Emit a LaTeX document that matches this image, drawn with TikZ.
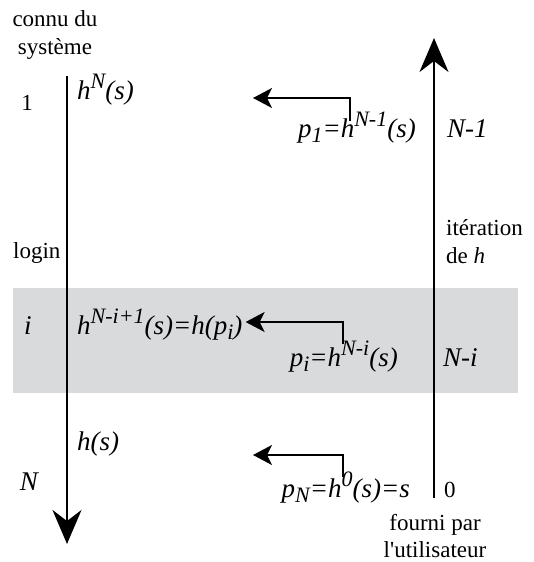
\documentclass[tikz,border=0pt]{standalone}
\usepackage{fontspec}
\setmainfont{Liberation Serif}[Ligatures=TeXOff]
\usetikzlibrary{arrows.meta}
\definecolor{bandgray}{RGB}{217,218,220}
\newcommand\supr[1]{\raisebox{0.38em}{\fontsize{22}{22}\selectfont #1}}
\newcommand\subr[1]{\raisebox{-0.22em}{\fontsize{22}{22}\selectfont #1}}
\begin{document}
\begin{tikzpicture}[x=1pt,y=-1pt,
  rt/.style={font=\fontsize{23}{27}\selectfont, inner sep=0pt},
  mt/.style={font=\fontsize{27}{29}\selectfont\itshape, inner sep=0pt},
  bigarrow/.style={line width=1.8pt, -{Stealth[length=34pt,width=29pt,inset=11pt]}},
  smallarrow/.style={line width=1.8pt, -{Stealth[length=19pt,width=20pt,inset=5pt]}}]
\useasboundingbox (0,0) rectangle (534,562);
\fill[bandgray] (13,288) rectangle (518,393);
% vertical axes
\coordinate (ltop) at (67,76);
\coordinate (lbot) at (67,544);
\coordinate (rbot) at (434,498);
\coordinate (rtop) at (434,38);
\draw[bigarrow] (ltop) -- (lbot);
\draw[bigarrow] (rbot) -- (rtop);
% top / bottom captions
\node[rt, anchor=base] (connu) at (55,27) {connu du};
\node[rt, anchor=base] (systeme) at (55,54) {système};
\node[rt, anchor=base] (fourni) at (435,530) {fourni par};
\node[rt, anchor=base] (util) at (435,557) {l'utilisateur};
\node[rt, anchor=base west] (iter) at (446,235) {itération};
\node[rt, anchor=base west] (deh) at (446,263) {de \textit{h}};
% left labels
\node[rt, anchor=base] (l1) at (27,110) {1};
\node[rt, anchor=base west] (login) at (13,258) {login};
\node[mt, anchor=base] (li) at (28,334) {i};
\node[mt, anchor=base] (lN) at (29,490) {N};
% right labels
\node[mt, anchor=base west] (rN1) at (447,137) {N-1};
\node[mt, anchor=base west] (rNi) at (443,366) {N-i};
\node[rt, anchor=base west] (r0) at (444,497) {0};
% left values
\node[mt, anchor=base west] (v1) at (77,99) {h\supr{N}(s)};
\node[mt, anchor=base west] (vi) at (77,334) {h\supr{N-i+1}(s)=h(p\subr{i})};
\node[mt, anchor=base west] (vN) at (77,450) {h(s)};
% right values
\node[mt, anchor=base east] (p1) at (416,137) {p\subr{1}=h\supr{N-1}(s)};
\node[mt, anchor=base east] (pi) at (398,366) {p\subr{i}=h\supr{N-i}(s)};
\node[mt, anchor=base east] (pN) at (410,497) {p\subr{N}=h\supr{0}(s)=s};
% small arrows
\coordinate (a1s) at (350,121);
\coordinate (a1c) at (350,98);
\coordinate (a1e) at (253,98);
\draw[smallarrow] (a1s) -- (a1c) -- (a1e);
\coordinate (a2s) at (343,344);
\coordinate (a2c) at (343,322);
\draw[smallarrow] (a2s) -- (a2c) -- ([xshift=3pt]vi.east |- a2c);
\coordinate (a3s) at (343,477);
\coordinate (a3c) at (343,455);
\coordinate (a3e) at (253,455);
\draw[smallarrow] (a3s) -- (a3c) -- (a3e);
\end{tikzpicture}
\end{document}
